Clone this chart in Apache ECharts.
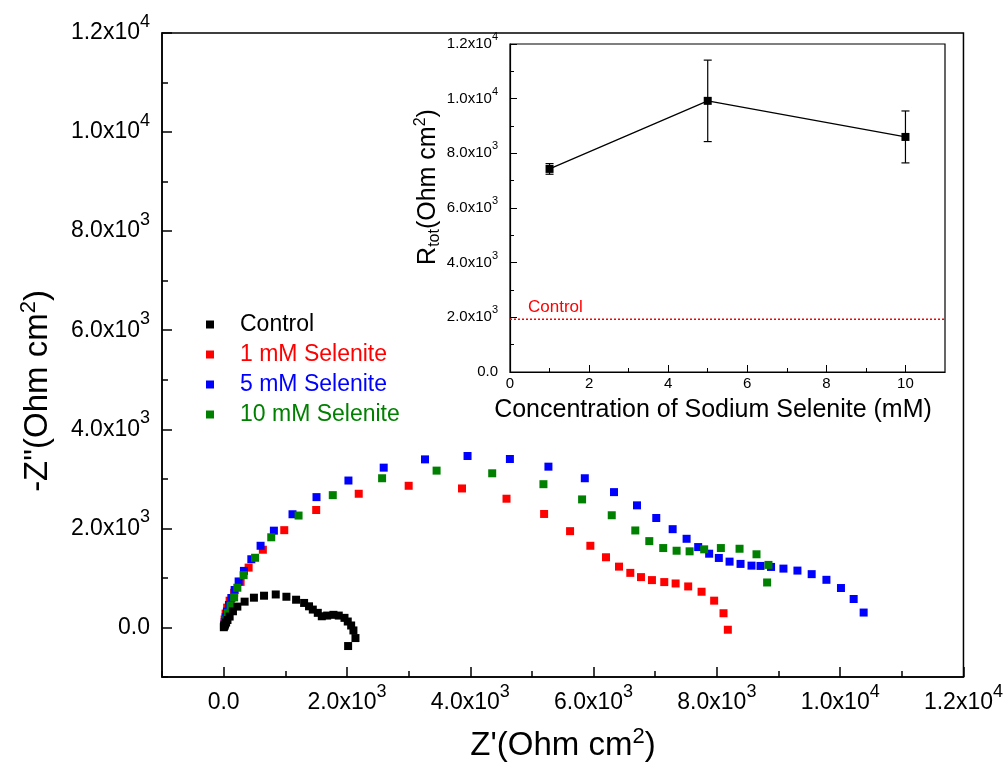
<!DOCTYPE html>
<html>
<head>
<meta charset="utf-8">
<script src="https://cdn.jsdelivr.net/npm/echarts@6/dist/echarts.min.js"></script>
<style>html,body{margin:0;padding:0;background:#fff;}#c{width:1006px;height:773px;}</style>
</head>
<body>
<div id="c"></div>
<script>
// ---------------- DATA ----------------
const seriesNames = ['Control', '1 mM Selenite', '5 mM Selenite', '10 mM Selenite'];
const seriesColors = ['#000000', '#ff0000', '#0000ff', '#008000'];

const controlRe = [3, 10, 22, 40, 62, 97, 151, 222, 340, 491, 655, 845, 1018, 1175, 1305, 1385, 1446, 1527, 1592, 1679, 1781, 1867, 1960, 2013, 2068, 2105, 2138, 2019];
const controlIm = [5, 30, 60, 100, 150, 220, 327, 421, 521, 601, 641, 666, 620, 560, 495, 427, 361, 295, 226, 240, 255, 240, 194, 120, 40, -60, -214, -375];

const sel1Re = [8, 16, 32, 57, 97, 170, 275, 405, 636, 983, 1501, 2191, 3001, 3866, 4588, 5198, 5619, 5948, 6202, 6413, 6596, 6769, 6947, 7147, 7331, 7535, 7752, 7956, 8108, 8178];
const sel1Im = [60, 160, 280, 400, 540, 700, 920, 1208, 1569, 1964, 2371, 2699, 2860, 2806, 2599, 2291, 1944, 1649, 1417, 1228, 1102, 1016, 956, 916, 888, 828, 721, 541, 287, -46];

const sel5Re = [5, 16, 32, 53, 86, 125, 178, 243, 329, 449, 599, 815, 1117, 1506, 2024, 2596, 3266, 3956, 4643, 5268, 5858, 6332, 6705, 7017, 7283, 7509, 7697, 7875, 8032, 8206, 8384, 8562, 8708, 8879, 9080, 9307, 9538, 9777, 10013, 10219, 10381];
const sel5Im = [40, 106, 206, 321, 455, 595, 756, 928, 1142, 1377, 1649, 1954, 2285, 2631, 2966, 3226, 3393, 3461, 3401, 3246, 3012, 2732, 2465, 2210, 1984, 1790, 1623, 1489, 1403, 1329, 1283, 1248, 1242, 1222, 1188, 1148, 1076, 962, 796, 575, 301];

const sel10Re = [10, 25, 44, 70, 113, 170, 222, 324, 510, 772, 1215, 1770, 2570, 3454, 4356, 5187, 5814, 6295, 6677, 6904, 7130, 7347, 7558, 7794, 8065, 8368, 8643, 8837, 8815];
const sel10Im = [30, 80, 154, 287, 441, 607, 802, 1056, 1407, 1820, 2259, 2671, 3012, 3166, 3112, 2892, 2585, 2265, 1958, 1743, 1603, 1549, 1537, 1577, 1603, 1589, 1477, 1263, 908];

// inset
const concentrations = [1, 5, 10];
const rtot = [7430, 9920, 8600];
const rtotErr = [195, 1490, 950];
const controlRtot = 1930;

// tick values
const mainMajorTicks = [0, 2000, 4000, 6000, 8000, 10000, 12000];
const mainMinorTicks = [-1000, 1000, 3000, 5000, 7000, 9000, 11000];
const insetXMajorTicks = [0, 2, 4, 6, 8, 10];
const insetXMinorTicks = [1, 3, 5, 7, 9];
const insetYMajorTicks = [0, 2000, 4000, 6000, 8000, 10000, 12000];
const insetYMinorTicks = [1000, 3000, 5000, 7000, 9000, 11000];

// ---------------- HELPERS ----------------
const FONT = "'Liberation Sans', Arial, sans-serif";
const zip = (a, b) => a.map((v, i) => [v, b[i]]);
function sciLabel(v) {
  if (v === 0) return '{b|0.0}';
  const e = Math.floor(Math.log10(Math.abs(v)) + 1e-9);
  const m = v / Math.pow(10, e);
  return m.toFixed(1) + 'x10{sup|' + e + '}';
}
function mainRich() {
  return {
    b: { fontSize: 23, fontFamily: FONT, color: '#000', padding: [8.5, 0, 8.5, 0] },
    sup: { fontSize: 18, fontFamily: FONT, color: '#000', verticalAlign: 'top', padding: [0, 0, 22, 0] }
  };
}
function insetRich() {
  return {
    b: { fontSize: 15, fontFamily: FONT, color: '#000', padding: [5, 0, 5, 0] },
    sup: { fontSize: 11, fontFamily: FONT, color: '#000', verticalAlign: 'top', padding: [0, 0, 14, 0] }
  };
}
function axis(opts) {
  return Object.assign({
    type: 'value',
    splitLine: { show: false },
    axisLine: { show: false, onZero: false },
    axisTick: { show: false },
    axisLabel: { show: false }
  }, opts);
}

const chart = echarts.init(document.getElementById('c'), null, { renderer: 'canvas' });

const mainX = { gridIndex: 0, position: 'bottom', min: -1000, max: 12000, interval: 1000 };
const mainY = { gridIndex: 0, position: 'left', min: -1000, max: 12000, interval: 1000 };
const insX = { gridIndex: 1, position: 'bottom', min: 0, max: 11, interval: 1 };
const insY = { gridIndex: 1, position: 'left', min: 0, max: 12000, interval: 1000 };

const option = {
  backgroundColor: '#fff',
  animation: false,
  grid: [
    { left: 162, right: 41, top: 33, bottom: 96, show: true, borderColor: '#000', borderWidth: 1.5, backgroundColor: 'transparent' },
    { left: 510, right: 61, top: 44, bottom: 401, show: true, borderColor: '#000', borderWidth: 1.2, backgroundColor: '#fff' }
  ],
  legend: {
    orient: 'vertical', left: 201, top: 308, itemWidth: 8, itemHeight: 8, itemGap: 7,
    selectedMode: false,
    textStyle: { fontSize: 23, fontFamily: FONT, padding: [0, 0, 0, 21] },
    data: seriesNames.map((n, i) => ({ name: n, icon: 'rect', itemStyle: { color: seriesColors[i], opacity: 1 }, textStyle: { color: seriesColors[i] } }))
  },
  xAxis: [
    axis(Object.assign({}, mainX, {
      axisLine: { show: true, onZero: false, lineStyle: { color: '#000', width: 1.5 } },
      axisTick: { show: true, inside: true, length: 6, customValues: mainMinorTicks, lineStyle: { color: '#000', width: 1.5 } },
      axisLabel: { show: true, customValues: mainMajorTicks, margin: 6, fontSize: 23, fontFamily: FONT, color: '#000', formatter: sciLabel, rich: mainRich() }
    })),
    axis(Object.assign({}, mainX, {
      axisTick: { show: true, inside: true, length: 10, customValues: mainMajorTicks, lineStyle: { color: '#000', width: 1.5 } }
    })),
    axis(Object.assign({}, insX, {
      axisLine: { show: true, onZero: false, lineStyle: { color: '#000', width: 1.2 } },
      axisTick: { show: true, inside: true, length: 4, customValues: insetXMinorTicks, lineStyle: { color: '#000', width: 1 } },
      axisLabel: { show: true, customValues: insetXMajorTicks, margin: 4, fontSize: 15, fontFamily: FONT, color: '#000' }
    })),
    axis(Object.assign({}, insX, {
      axisTick: { show: true, inside: true, length: 7, customValues: insetXMajorTicks, lineStyle: { color: '#000', width: 1 } }
    }))
  ],
  yAxis: [
    axis(Object.assign({}, mainY, {
      axisLine: { show: true, onZero: false, lineStyle: { color: '#000', width: 1.5 } },
      axisTick: { show: true, inside: true, length: 6, customValues: mainMinorTicks, lineStyle: { color: '#000', width: 1.5 } },
      axisLabel: { show: true, customValues: mainMajorTicks, margin: 12, fontSize: 23, fontFamily: FONT, color: '#000', formatter: sciLabel, rich: mainRich() }
    })),
    axis(Object.assign({}, mainY, {
      axisTick: { show: true, inside: true, length: 10, customValues: mainMajorTicks, lineStyle: { color: '#000', width: 1.5 } }
    })),
    axis(Object.assign({}, insY, {
      axisLine: { show: true, onZero: false, lineStyle: { color: '#000', width: 1.2 } },
      axisTick: { show: true, inside: true, length: 4, customValues: insetYMinorTicks, lineStyle: { color: '#000', width: 1 } },
      axisLabel: { show: true, customValues: insetYMajorTicks, margin: 12, fontSize: 15, fontFamily: FONT, color: '#000', formatter: sciLabel, rich: insetRich() }
    })),
    axis(Object.assign({}, insY, {
      axisTick: { show: true, inside: true, length: 7, customValues: insetYMajorTicks, lineStyle: { color: '#000', width: 1 } }
    }))
  ],
  graphic: [
    { type: 'text', x: 38, y: 391, rotation: Math.PI / 2, z: 100,
      style: { text: '-Z"(Ohm cm{sup|2})', fontSize: 33, fontFamily: FONT, fill: '#000', align: 'center', verticalAlign: 'middle',
        rich: { sup: { fontSize: 22, fontFamily: FONT, fill: '#000', verticalAlign: 'top', padding: [0, 0, 18, 0] } } } },
    { type: 'text', x: 563, y: 746, z: 100,
      style: { text: "Z'(Ohm cm{sup|2})", fontSize: 33, fontFamily: FONT, fill: '#000', align: 'center', verticalAlign: 'middle',
        rich: { sup: { fontSize: 22, fontFamily: FONT, fill: '#000', verticalAlign: 'top', padding: [0, 0, 18, 0] } } } },
    { type: 'text', x: 713, y: 410, z: 100,
      style: { text: 'Concentration of Sodium Selenite (mM)', fontSize: 25, fontFamily: FONT, fill: '#000', align: 'center', verticalAlign: 'middle' } },
    { type: 'text', x: 428, y: 187, rotation: Math.PI / 2, z: 100,
      style: { text: 'R{sub|tot}(Ohm cm{sup|2})', fontSize: 25, fontFamily: FONT, fill: '#000', align: 'center', verticalAlign: 'middle',
        rich: {
          sub: { fontSize: 16, fontFamily: FONT, fill: '#000', verticalAlign: 'bottom', padding: [14, 0, 0, 0] },
          sup: { fontSize: 16, fontFamily: FONT, fill: '#000', verticalAlign: 'top', padding: [0, 0, 14, 0] }
        } } }
  ],
  series: [
    { name: seriesNames[1], type: 'scatter', xAxisIndex: 0, yAxisIndex: 0, symbol: 'rect', symbolSize: 8, itemStyle: { color: seriesColors[1], opacity: 1 }, data: zip(sel1Re, sel1Im), z: 2 },
    { name: seriesNames[2], type: 'scatter', xAxisIndex: 0, yAxisIndex: 0, symbol: 'rect', symbolSize: 8, itemStyle: { color: seriesColors[2], opacity: 1 }, data: zip(sel5Re, sel5Im), z: 3 },
    { name: seriesNames[3], type: 'scatter', xAxisIndex: 0, yAxisIndex: 0, symbol: 'rect', symbolSize: 8, itemStyle: { color: seriesColors[3], opacity: 1 }, data: zip(sel10Re, sel10Im), z: 4 },
    { name: seriesNames[0], type: 'scatter', xAxisIndex: 0, yAxisIndex: 0, symbol: 'rect', symbolSize: 8, itemStyle: { color: seriesColors[0], opacity: 1 }, data: zip(controlRe, controlIm), z: 5 },
    {
      name: 'ControlLevel', type: 'line', xAxisIndex: 2, yAxisIndex: 2, symbol: 'none', z: 8, silent: true,
      lineStyle: { color: '#ff0000', type: [2, 2], width: 1.3, opacity: 1 },
      itemStyle: { color: '#ff0000' },
      data: [[insX.min, controlRtot], [insX.max, controlRtot]],
      markPoint: {
        symbol: 'rect', symbolSize: 0.01, silent: true,
        label: { show: true, formatter: 'Control', color: '#ff0000', fontSize: 17, fontFamily: FONT, position: 'right', offset: [13, -12] },
        data: [{ coord: [insX.min, controlRtot] }]
      }
    },
    {
      name: 'Rtot', type: 'line', xAxisIndex: 2, yAxisIndex: 2, symbol: 'rect', symbolSize: 8,
      lineStyle: { color: '#000', width: 1.2 }, itemStyle: { color: '#000', opacity: 1 }, z: 10,
      data: zip(concentrations, rtot)
    },
    {
      name: 'RtotErr', type: 'custom', xAxisIndex: 2, yAxisIndex: 2, z: 9,
      data: concentrations.map((c, i) => [c, rtot[i] - rtotErr[i], rtot[i] + rtotErr[i]]),
      renderItem: function (params, api) {
        const lo = api.coord([api.value(0), api.value(1)]);
        const hi = api.coord([api.value(0), api.value(2)]);
        const hw = 4;
        const st = { stroke: '#000', lineWidth: 1.2 };
        return { type: 'group', children: [
          { type: 'line', shape: { x1: lo[0], y1: lo[1], x2: hi[0], y2: hi[1] }, style: st },
          { type: 'line', shape: { x1: lo[0] - hw, y1: lo[1], x2: lo[0] + hw, y2: lo[1] }, style: st },
          { type: 'line', shape: { x1: hi[0] - hw, y1: hi[1], x2: hi[0] + hw, y2: hi[1] }, style: st }
        ] };
      }
    }
  ]
};
chart.setOption(option);
</script>
</body>
</html>
